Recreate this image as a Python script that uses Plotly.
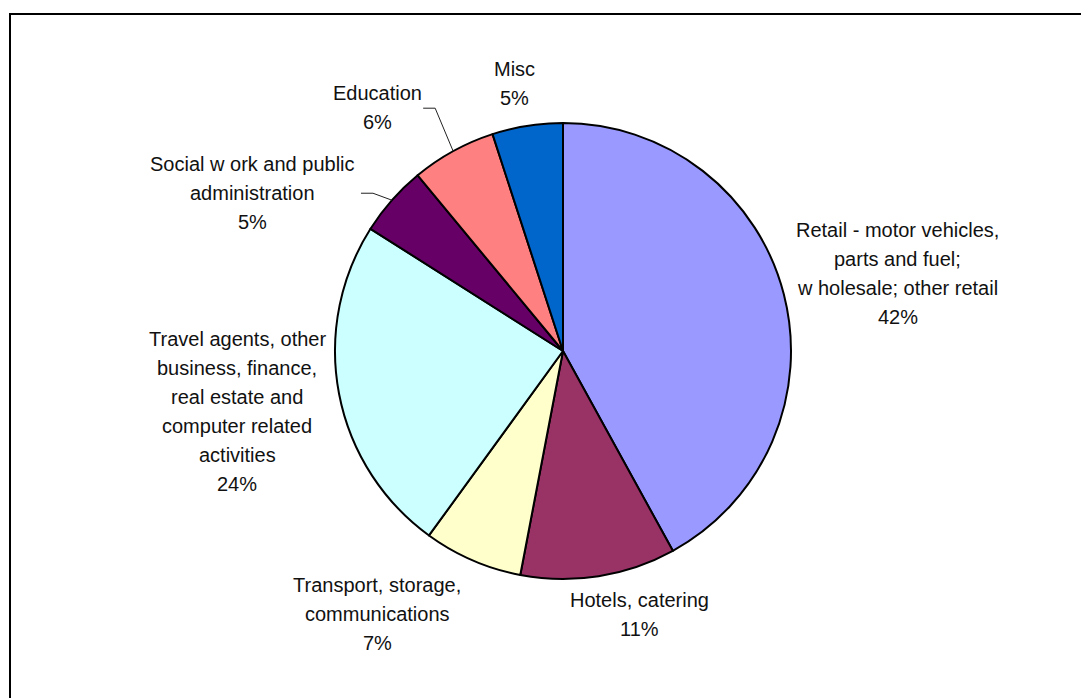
import math
import plotly.graph_objects as go

# Sector shares (percent), clockwise from 12 o'clock
sectors = [
    "Retail - motor vehicles, parts and fuel; wholesale; other retail",
    "Hotels, catering",
    "Transport, storage, communications",
    "Travel agents, other business, finance, real estate and computer related activities",
    "Social work and public administration",
    "Education",
    "Misc",
]
shares = [42, 11, 7, 24, 5, 6, 5]

# Label text as wrapped on the chart (one entry per line, the share is appended)
label_lines = [
    ["Retail - motor vehicles,", "parts and fuel;", "w holesale; other retail"],
    ["Hotels, catering"],
    ["Transport, storage,", "communications"],
    ["Travel agents, other", "business, finance,", "real estate and", "computer related", "activities"],
    ["Social w ork and public", "administration"],
    ["Education"],
    ["Misc"],
]

colors = ["#9999FF", "#993366", "#FFFFCC", "#CCFFFF", "#660066", "#FF8080", "#0066CC"]

# ---- layout geometry (pixels) ----
W, H = 1081, 698
CX, CY, R = 563, 351, 228
LINE_H = 29
FONT = dict(family="Liberation Sans, Arial, sans-serif", size=20, color="#111111")

# label block centre offset from the rim point at each slice's mid-angle
label_offsets = [(114, -21), (41, 38), (-95, 54), (-102, 18), (-139, -7), (-76, -44), (-13, -42)]
# leader lines (start at label edge, elbow, then rim) for the narrow slices
leader_offsets = {4: [(-31, -7), (-19, -7)], 5: [(-30, -43), (-18, -43)]}


def px(x):
    return x / W


def py(y):
    return 1 - y / H


fig = go.Figure()

# chart frame (top and left edges), drawn on hidden pixel-scaled axes
fig.add_trace(
    go.Scatter(
        x=[W + 20, 10, 10], y=[14, 14, H + 20],
        mode="lines", line=dict(color="#000000", width=2),
        hoverinfo="skip", showlegend=False,
    )
)

fig.add_trace(
    go.Pie(
        labels=sectors,
        values=shares,
        sort=False,
        direction="clockwise",
        rotation=0,
        textinfo="none",
        hoverinfo="label+percent",
        marker=dict(colors=colors, line=dict(color="#000000", width=2)),
        domain=dict(x=[px(CX - R), px(CX + R)], y=[py(CY + R), py(CY - R)]),
        showlegend=False,
    )
)

total = sum(shares)
annotations = []
shapes = []
start = 0.0
for i, v in enumerate(shares):
    mid = (start + v / 2) / total * 2 * math.pi
    start += v
    rx = CX + R * math.sin(mid)
    ry = CY - R * math.cos(mid)
    pct = round(v / total * 100)
    lines = label_lines[i] + [f"{pct}%"]
    ox, oy = label_offsets[i]
    lx, ly = rx + ox, ry + oy
    n = len(lines)
    for k, t in enumerate(lines):
        yy = ly + (k - (n - 1) / 2) * LINE_H
        annotations.append(
            dict(
                x=px(lx), y=py(yy), xref="paper", yref="paper",
                text=t, showarrow=False, xanchor="center", yanchor="middle",
                font=FONT,
            )
        )
    if i in leader_offsets:
        (sx, sy), (ex, ey) = leader_offsets[i]
        path = f"M {px(rx + sx)} {py(ry + sy)} L {px(rx + ex)} {py(ry + ey)} L {px(rx)} {py(ry)}"
        shapes.append(
            dict(type="path", xref="paper", yref="paper", path=path,
                 line=dict(color="#222222", width=1))
        )

fig.update_layout(
    width=W, height=H,
    margin=dict(l=0, r=0, t=0, b=0),
    paper_bgcolor="#FFFFFF",
    plot_bgcolor="#FFFFFF",
    xaxis=dict(range=[0, W], visible=False, fixedrange=True, domain=[0, 1]),
    yaxis=dict(range=[H, 0], visible=False, fixedrange=True, domain=[0, 1]),
    annotations=annotations,
    shapes=shapes,
)

fig.write_html("out.html", config={"displayModeBar": False})
